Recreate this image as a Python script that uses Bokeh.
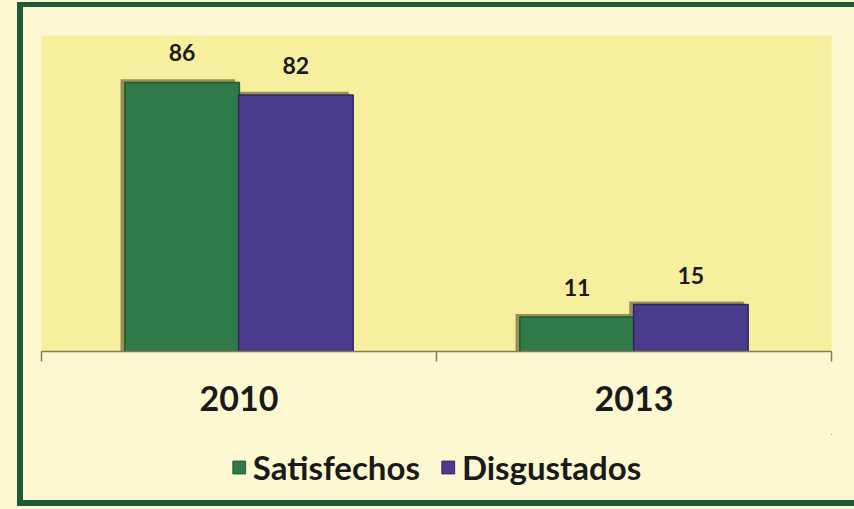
from bokeh.plotting import figure
from bokeh.layouts import column
from bokeh.models import (ColumnDataSource, Range1d, Legend, LegendItem,
                          LabelSet, LinearAxis, FixedTicker)
from bokeh.core.properties import value
from bokeh.transform import dodge
from bokeh.embed import file_html
from bokeh.resources import INLINE

years = ["2010", "2013"]
series = ["Satisfechos", "Disgustados"]
satisfechos = [86, 11]
disgustados = [82, 15]
colors = ["#2F7A48", "#4A3B8C"]
FONT = "Lato"
CREAM = "#FBF8D2"

centers = [i + 0.5 for i in range(len(years))]
src = ColumnDataSource(dict(
    xc=centers,
    sat=satisfechos,
    dis=disgustados,
    sat_sh=[v + 1.0 for v in satisfechos],
    dis_sh=[v + 1.0 for v in disgustados],
    sat_t=[str(v) for v in satisfechos],
    dis_t=[str(v) for v in disgustados],
))

p = figure(x_range=Range1d(0, len(years)),
           y_range=Range1d(0, 101),
           width=831, height=427,
           x_axis_location=None, y_axis_location=None,
           output_backend="svg", toolbar_location=None,
           min_border_left=18, min_border_right=23,
           min_border_top=28, min_border_bottom=83)
p.background_fill_color = "#F5EF9E"
p.border_fill_color = CREAM
p.outline_line_color = None
p.grid.visible = False

off = 0.144
w = 0.29
# soft shadows
p.vbar(x=dodge("xc", -off - 0.011), top="sat_sh", width=w, source=src,
       fill_color="#3A3312", fill_alpha=0.5, line_color=None)
p.vbar(x=dodge("xc", off - 0.011), top="dis_sh", width=w, source=src,
       fill_color="#3A3312", fill_alpha=0.5, line_color=None)

p.vbar(x=dodge("xc", -off), top="sat", width=w, source=src,
       fill_color=colors[0], line_color="#1F5A34", line_width=1.5)
p.vbar(x=dodge("xc", off), top="dis", width=w, source=src,
       fill_color=colors[1], line_color="#30265F", line_width=1.5)

for col, ycol, dx in (("sat_t", "sat", -off), ("dis_t", "dis", off)):
    p.add_layout(LabelSet(x=dodge("xc", dx), y=ycol, text=col, source=src,
                          y_offset=21, text_align="center", text_baseline="alphabetic",
                          text_font=value(FONT), text_font_style="bold",
                          text_font_size="23px", text_color="#1A1A1A"))

# axis line with ticks at category boundaries
tick_axis = LinearAxis(ticker=FixedTicker(ticks=list(range(len(years) + 1))),
                       major_label_text_color=None,
                       major_label_text_font_size="6px", major_label_standoff=0,
                       axis_line_color="#857B55", axis_line_width=1.5,
                       major_tick_line_color="#857B55", major_tick_line_width=1.5,
                       major_tick_in=0, major_tick_out=10,
                       minor_tick_line_color=None)
p.add_layout(tick_axis, "below")

cat_axis = LinearAxis(ticker=FixedTicker(ticks=centers),
                      major_label_overrides={c: y for c, y in zip(centers, years)},
                      axis_line_color=None, major_tick_line_color=None,
                      minor_tick_line_color=None, major_label_standoff=18,
                      major_label_text_font=FONT, major_label_text_font_style="bold",
                      major_label_text_font_size="34px", major_label_text_color="#1A1A1A")
p.add_layout(cat_axis, "below")

# legend strip
lf = figure(x_range=Range1d(0, 1), y_range=Range1d(0, 1), width=831, height=66,
            x_axis_location=None, y_axis_location=None,
            output_backend="svg", toolbar_location=None,
            min_border=0)
lf.background_fill_color = CREAM
lf.border_fill_color = CREAM
lf.outline_line_color = None
lf.grid.visible = False
lr1 = lf.vbar(x=[5], top=[5], bottom=[4], width=0.1,
              fill_color=colors[0], line_color="#1F5A34")
lr2 = lf.vbar(x=[5], top=[5], bottom=[4], width=0.1,
              fill_color=colors[1], line_color="#30265F")
legend = Legend(items=[LegendItem(label=series[0], renderers=[lr1]),
                       LegendItem(label=series[1], renderers=[lr2])],
                orientation="horizontal", location="center",
                label_text_font=FONT, label_text_font_style="bold",
                label_text_font_size="33px", label_text_color="#1A1A1A",
                glyph_width=16, glyph_height=16, spacing=20, label_standoff=6,
                padding=4, margin=0, background_fill_alpha=0, border_line_color=None)
lf.add_layout(legend)

layout = column(p, lf, spacing=0,
                styles={"margin-left": "17px", "margin-top": "2px",
                        "background-color": CREAM,
                        "border-left": "6px solid #1D5A38",
                        "border-top": "5px solid #1D5A38",
                        "border-bottom": "6px solid #1D5A38",
                        "outline": "20px solid " + CREAM})

open("out.html", "w").write(file_html(layout, INLINE))
